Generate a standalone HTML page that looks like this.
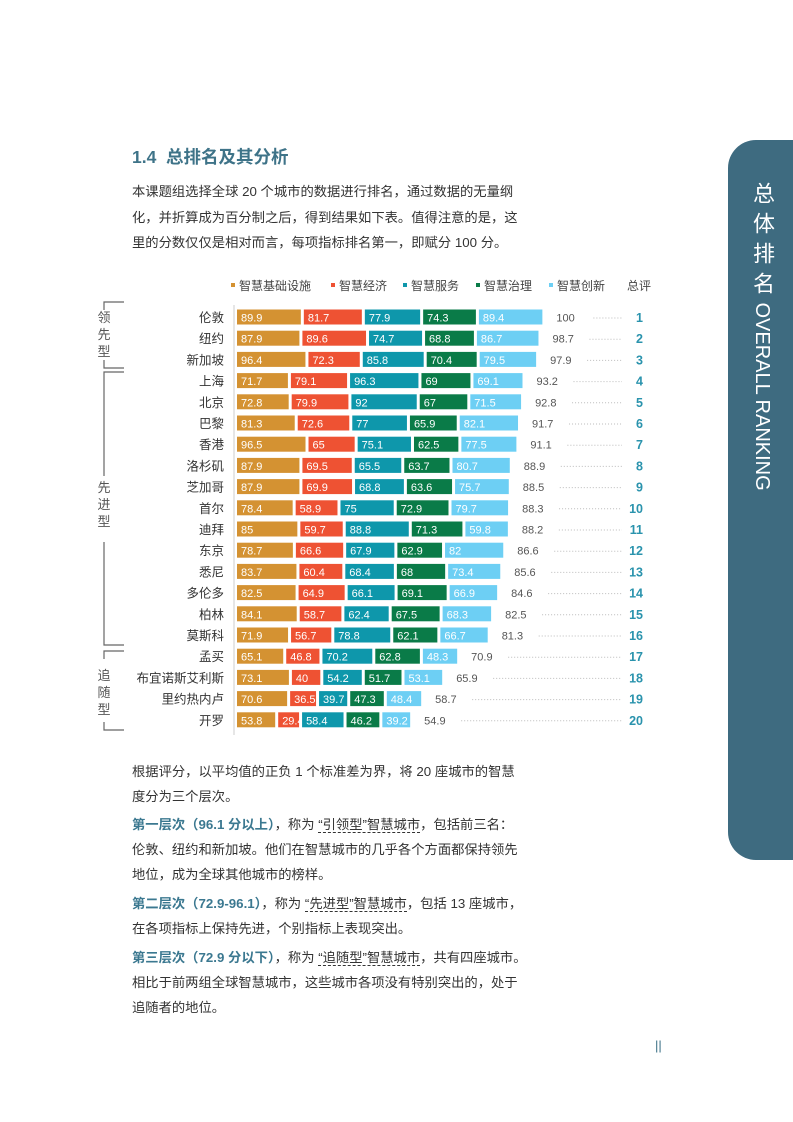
<!DOCTYPE html>
<html><head><meta charset="utf-8">
<style>
body{margin:0;background:#fff;}
#page{position:relative;width:793px;height:1122px;overflow:hidden;background:#fff;font-family:"Liberation Sans","Noto Sans CJK SC",sans-serif;color:#333;}
.ln{position:absolute;left:132px;font-size:13.3px;white-space:nowrap;line-height:16px;}
.hd{color:#3b7890;font-weight:bold;}
.u{border-bottom:1px dashed #333;}
</style></head>
<body>
<div id="page">
<div style="position:absolute;left:132px;top:144px;font-size:17.5px;font-weight:bold;color:#3e7388;white-space:nowrap;">1.4&nbsp; 总排名及其分析</div>
<div>
<div class="ln" style="top:184px">本课题组选择全球 20 个城市的数据进行排名，通过数据的无量纲</div>
<div class="ln" style="top:210px">化，并折算成为百分制之后，得到结果如下表。值得注意的是，这</div>
<div class="ln" style="top:235px">里的分数仅仅是相对而言，每项指标排名第一，即赋分 100 分。</div>
</div>

<svg id="chart" style="position:absolute;left:0;top:0" width="793" height="760"></svg>

<div>
<div class="ln" style="top:764px">根据评分，以平均值的正负 1 个标准差为界，将 20 座城市的智慧</div>
<div class="ln" style="top:789px">度分为三个层次。</div>
<div class="ln" style="top:817px"><span class="hd">第一层次（96.1 分以上）</span>，称为 <span class="u">“引领型”智慧城市</span>，包括前三名：</div>
<div class="ln" style="top:842px">伦敦、纽约和新加坡。他们在智慧城市的几乎各个方面都保持领先</div>
<div class="ln" style="top:867px">地位，成为全球其他城市的榜样。</div>
<div class="ln" style="top:896px"><span class="hd">第二层次（72.9-96.1）</span>，称为 <span class="u">“先进型”智慧城市</span>，包括 13 座城市，</div>
<div class="ln" style="top:921px">在各项指标上保持先进，个别指标上表现突出。</div>
<div class="ln" style="top:950px"><span class="hd">第三层次（72.9 分以下）</span>，称为 <span class="u">“追随型”智慧城市</span>，共有四座城市。</div>
<div class="ln" style="top:975px">相比于前两组全球智慧城市，这些城市各项没有特别突出的，处于</div>
<div class="ln" style="top:1000px">追随者的地位。</div>
</div>

<div style="position:absolute;left:655px;top:1038px;font-size:13px;color:#3e7388;">||</div>

<div style="position:absolute;left:728px;top:140px;width:70px;height:720px;background:#3e6b80;border-radius:28px 0 0 28px;">
<div style="position:absolute;left:18px;top:42px;writing-mode:vertical-rl;color:#fff;font-size:22px;letter-spacing:1px;white-space:nowrap;font-family:'Liberation Sans','Noto Sans CJK SC',sans-serif;">总 体 排 名 <span style="font-size:20px;letter-spacing:0">OVERALL RANKING</span></div>
</div>
</div>

<script>
const cities=["伦敦","纽约","新加坡","上海","北京","巴黎","香港","洛杉矶","芝加哥","首尔","迪拜","东京","悉尼","多伦多","柏林","莫斯科","孟买","布宜诺斯艾利斯","里约热内卢","开罗"];
const infra=[89.9,87.9,96.4,71.7,72.8,81.3,96.5,87.9,87.9,78.4,85,78.7,83.7,82.5,84.1,71.9,65.1,73.1,70.6,53.8];
const economy=[81.7,89.6,72.3,79.1,79.9,72.6,65,69.5,69.9,58.9,59.7,66.6,60.4,64.9,58.7,56.7,46.8,40,36.5,29.4];
const service=[77.9,74.7,85.8,96.3,92,77,75.1,65.5,68.8,75,88.8,67.9,68.4,66.1,62.4,78.8,70.2,54.2,39.7,58.4];
const governance=[74.3,68.8,70.4,69,67,65.9,62.5,63.7,63.6,72.9,71.3,62.9,68,69.1,67.5,62.1,62.8,51.7,47.3,46.2];
const innovation=[89.4,86.7,79.5,69.1,71.5,82.1,77.5,80.7,75.7,79.7,59.8,82,73.4,66.9,68.3,66.7,48.3,53.1,48.4,39.2];
const totals=[100,98.7,97.9,93.2,92.8,91.7,91.1,88.9,88.5,88.3,88.2,86.6,85.6,84.6,82.5,81.3,70.9,65.9,58.7,54.9];
const ranks=["1","2","3","4","5","6","7","8","9","10","11","12","13","14","15","16","17","18","19","20"];
const seriesNames=["智慧基础设施","智慧经济","智慧服务","智慧治理","智慧创新"];

const svg=document.getElementById('chart');
const NS='http://www.w3.org/2000/svg';
const colors=["#d49232","#ee5233","#0e97ab","#0a7b48","#6dcff4"];
const series=[infra,economy,service,governance,innovation];
const X0=237,SC=0.71,GAP=3,Y0=317,DY=21.2,BH=15;
const xs=v=>v*SC;
const yc=i=>Y0+i*DY;
function mk(tag,attrs){const e=document.createElementNS(NS,tag);for(const k in attrs)e.setAttribute(k,attrs[k]);svg.appendChild(e);return e;}

// legend
const legX=[231,331,403,476,549];
seriesNames.forEach((n,k)=>{
  const r=mk('rect',{x:legX[k],y:283,width:4,height:4,fill:colors[k]});
  
  
  const t=mk('text',{x:legX[k]+8,y:290,'font-size':12,fill:'#444'});
  
  
  t.textContent=n;
});
const tl=mk('text',{x:627,y:290,'font-size':12,fill:'#444'});


tl.textContent='总评';

// axis line
const ax=mk('line',{x1:234,y1:305,x2:234,y2:735,stroke:'#ccc','stroke-width':1});



cities.forEach((c,i)=>{
  const y=yc(i);
  const lab=mk('text',{x:224,y:y+5,'font-size':12.5,fill:'#333','text-anchor':'end'});
  
  
  lab.textContent=c;
  let x=X0;
  series.forEach((s,k)=>{
    const w=xs(s[i]);
    const r=mk('rect',{x:x,y:y-BH/2,width:w,height:BH,fill:colors[k]});
    
    
    const t=mk('text',{x:x+4,y:y+4.5,'font-size':11,fill:'#fff'});
    
    
    t.textContent=s[i];
    x+=w+GAP;
  });
  const tv=mk('text',{x:x+11,y:y+4.5,'font-size':11,fill:'#555'});
  
  
  tv.textContent=totals[i];
  const dl=mk('line',{x1:x+48,y1:y+1,x2:622,y2:y+1,stroke:'#bbb','stroke-width':1,'stroke-dasharray':'1,2'});
  
  
  const rk=mk('text',{x:643,y:y+5,'font-size':12.5,'font-weight':'bold',fill:'#2a93ad','text-anchor':'end'});
  
  
  rk.textContent=ranks[i];
});

// group brackets
const groups=[["领","先","型",302,368,322],["先","进","型",372,645,492],["追","随","型",651,730,680]];
groups.forEach(g=>{
  const [a,b,c,top,bot,ty]=g;
  const p=mk('path',{d:`M124 ${top} H104 V${top+8} M104 ${bot-8} V${bot} H124`,fill:'none',stroke:'#666','stroke-width':1.2});
  
  
  if(bot-top>120){
    const v=mk('path',{d:`M104 ${top+8} V${ty-16} M104 ${ty+50} V${bot-8}`,fill:'none',stroke:'#666','stroke-width':1.2});
    
    
  }
  [a,b,c].forEach((ch,j)=>{
    const t=mk('text',{x:104,y:ty+j*17,'font-size':13,fill:'#555','text-anchor':'middle'});
    
    
    t.textContent=ch;
  });
});
</script>
</body></html>
